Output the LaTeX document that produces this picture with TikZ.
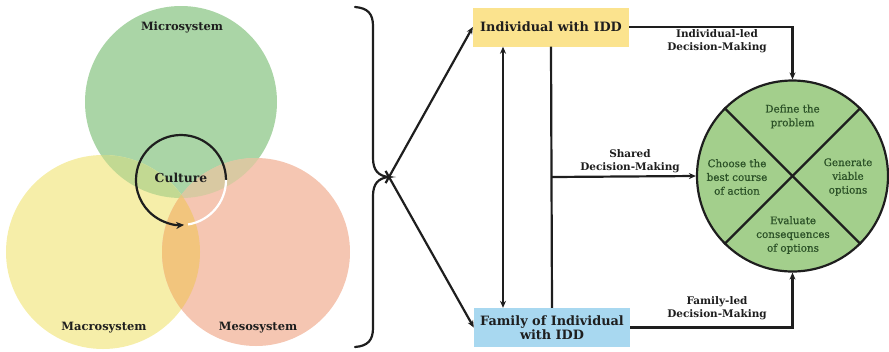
\documentclass[tikz,border=0pt]{standalone}
\usepackage{fontspec}
\setmainfont{DejaVu Serif}
\newfontfamily\stepfont[FakeBold=0.8]{DejaVu Serif}
\usetikzlibrary{arrows.meta}
\definecolor{micro}{HTML}{AAD5A6}
\definecolor{macro}{HTML}{F6EEA9}
\definecolor{meso}{HTML}{F5C6B2}
\definecolor{microMacro}{HTML}{C2D992}
\definecolor{microMeso}{HTML}{D9C9A2}
\definecolor{macroMeso}{HTML}{F2C57D}
\definecolor{allThree}{HTML}{E4C682}
\definecolor{indFill}{HTML}{FBE38E}
\definecolor{famFill}{HTML}{A8D8F0}
\definecolor{dmFill}{HTML}{A3CF8C}
\definecolor{dmText}{HTML}{2C5228}
\definecolor{ink}{HTML}{1E1E1E}
\begin{document}
\begin{tikzpicture}[x=1bp,y=-1bp,
  conn/.style={line width=2.2bp,draw=ink},
  tip/.style={-{Stealth[length=7bp,width=6bp]}},
  venlabel/.style={font=\bfseries\fontsize{11.5}{13}\selectfont,text=ink},
  box/.style={font=\bfseries\fontsize{12.9}{14.5}\selectfont,text=ink,inner sep=0pt,
    minimum width=156bp,minimum height=39bp,align=center},
  edgelabel/.style={font=\bfseries\fontsize{10.5}{13}\selectfont,text=ink,align=center},
  steptext/.style={font=\stepfont\fontsize{10.4}{13.8}\selectfont,text=dmText,align=center}]
\useasboundingbox (0,0) rectangle (889,351);

% --- Venn diagram of the three systems ---
\coordinate (cMicro) at (181,102);
\coordinate (cMacro) at (103,252);
\coordinate (cMeso) at (256,252);
\fill[micro] (cMicro) circle[radius=96];
\fill[macro] (cMacro) circle[radius=97];
\fill[meso] (cMeso) circle[radius=94];
\begin{scope}
  \clip (cMicro) circle[radius=96];
  \fill[microMacro] (cMacro) circle[radius=97];
  \fill[microMeso] (cMeso) circle[radius=94];
\end{scope}
\begin{scope}
  \clip (cMacro) circle[radius=97];
  \fill[macroMeso] (cMeso) circle[radius=94];
  \clip (cMeso) circle[radius=94];
  \fill[allThree] (cMicro) circle[radius=96];
\end{scope}
\node[venlabel] (micro) at (182,27) {Microsystem};
\node[venlabel] (macro) at (104,328) {Macrosystem};
\node[venlabel] (meso) at (258,328) {Mesosystem};

% culture cycle
\coordinate (cCult) at (181,180);
\draw[line width=2.2bp,draw=ink,-{Stealth[length=8bp,width=7bp]}]
  ([shift={(0:45)}]cCult) arc[start angle=0,end angle=-274,radius=45];
\draw[line width=2.2bp,white]
  ([shift={(-279:45)}]cCult) arc[start angle=-279,end angle=-360,radius=45];
\node[font=\bfseries\fontsize{12.4}{14}\selectfont,text=ink] (culture) at (181,178) {Culture};

% --- brace gathering the systems ---
\coordinate (btip) at (389,177);
\draw[line width=2.2bp,draw=ink,line cap=round]
  (355,7) .. controls (368,8) and (373,14) .. (373,26)
  -- (373,158) .. controls (373,170) and (378,176) .. (btip)
  .. controls (378,178) and (373,184) .. (373,196)
  -- (373,328) .. controls (373,340) and (368,346) .. (355,347);

% --- decision-makers ---
\node[box,fill=indFill] (ind) at (551,27) {Individual with IDD};
\node[box,fill=famFill] (fam) at (552,327.5) {Family of Individual\\with IDD};

\draw[conn,tip,shorten <=-7bp] (btip) -- (ind.west);
\draw[conn,tip,shorten <=-7bp] (btip) -- (fam.west);

\draw[conn,{Stealth[length=7bp,width=6bp]}-{Stealth[length=7bp,width=6bp]}]
  (ind.south -| 503,0) -- (fam.north -| 503,0);
\draw[conn] (ind.south) -- (fam.north);
\coordinate (shared) at (552,177);

% --- decision-making cycle ---
\node[circle,draw=ink,line width=2.2bp,fill=dmFill,minimum size=191bp,inner sep=0pt]
  (dm) at (792.5,176) {};
\draw[conn] (dm.135) -- (dm.-45);
\draw[conn] (dm.45) -- (dm.-135);
\node[steptext] (define) at (792.5,116.5) {Define the\\problem};
\node[steptext] (generate) at (848,177) {Generate\\viable\\options};
\node[steptext] (choose) at (737,177) {Choose the\\best course\\of action};
\node[steptext] (evaluate) at (793,235) {Evaluate\\consequences\\of options};

\draw[conn,tip] (ind.east) -| (dm.north);
\draw[conn,tip] (fam.east) -| (dm.south);
\draw[conn,tip] (shared) -- (dm.west);

\node[edgelabel] (indled) at (717,41) {Individual-led\\Decision-Making};
\node[edgelabel] (sharedlab) at (630,161) {Shared\\Decision-Making};
\node[edgelabel] (famled) at (717,308.5) {Family-led\\Decision-Making};
\end{tikzpicture}
\end{document}
